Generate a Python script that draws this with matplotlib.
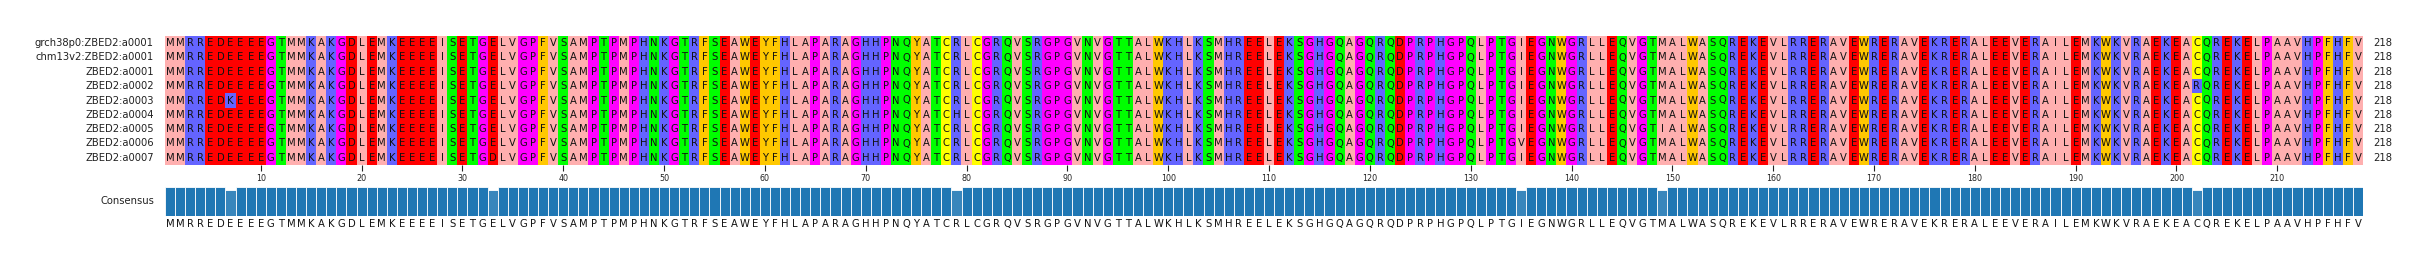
import numpy as np
import matplotlib.pyplot as plt
from matplotlib.colors import LinearSegmentedColormap

# Nombres de las secuencias (en el orden de la figura)
nombres = [
    "grch38p0:ZBED2:a0001",
    "chm13v2:ZBED2:a0001",
    "ZBED2:a0001",
    "ZBED2:a0002",
    "ZBED2:a0003",
    "ZBED2:a0004",
    "ZBED2:a0005",
    "ZBED2:a0006",
    "ZBED2:a0007",
]

base = (
    "MMRREDEEEEGTMMKAKGDLEMKEEEEISETGELVGPFVSAMPTPMPHNKGTRFSEAWEYFHLAPARAGHHPNQYATCRL"
    "CGRQVSRGPGVNVGTTALWKHLKSMHREELEKSGHGQAGQRQDPRPHGPQLPTGIEGNWGRLLEQVGTMALWASQREKEV"
    "LRRERAVEWRERAVEKRERALEEVERAILEMKWKVRAEKEACQREKELPAAVHPFHFV"
)

# Sustituciones por secuencia: (fila, posición 1-based, residuo)
variantes = [
    (3, 202, "R"),   # ZBED2:a0002
    (4, 7, "K"),     # ZBED2:a0003
    (5, 79, "H"),    # ZBED2:a0004
    (6, 149, "I"),   # ZBED2:a0005
    (7, 135, "V"),   # ZBED2:a0006
    (8, 33, "D"),    # ZBED2:a0007
]

# Esquema de colores Zappo
zappo = {}
for aa in "AVLIM":
    zappo[aa] = "#ffafaf"
for aa in "FWY":
    zappo[aa] = "#ffc800"
for aa in "KRH":
    zappo[aa] = "#6464ff"
for aa in "DE":
    zappo[aa] = "#ff0000"
for aa in "STNQ":
    zappo[aa] = "#00ff00"
for aa in "PG":
    zappo[aa] = "#ff00ff"
zappo["C"] = "#ffff00"

# Construir las secuencias alineadas
seqs = [list(base) for _ in nombres]
for fila, pos, aa in variantes:
    seqs[fila][pos - 1] = aa
seqs = ["".join(s) for s in seqs]
n_seq = len(seqs)
n_col = len(base)

# Consenso e identidad por columna
consenso = ""
identidad = []
for i in range(n_col):
    col = [s[i] for s in seqs]
    letras, cuentas = np.unique(col, return_counts=True)
    k = np.argmax(cuentas)
    consenso += letras[k]
    identidad.append(100 * cuentas[k] / n_seq)
identidad = np.array(identidad)

W, H = 2427, 265
fig = plt.figure(figsize=(W / 100, H / 100), dpi=100, facecolor="w")

x0, x1 = 165, 2363
ax = fig.add_axes([x0 / W, (H - 165) / H, (x1 - x0) / W, 129 / H])
axc = fig.add_axes([x0 / W, (H - 215.7) / H, (x1 - x0) / W, 28.4 / H])

fs = 7.2
# Celdas coloreadas y letras
rgb = np.zeros((n_seq, n_col, 3))
for r, s in enumerate(seqs):
    for c, aa in enumerate(s):
        rgb[r, c] = plt.matplotlib.colors.to_rgb(zappo.get(aa, "#ffffff"))
        ax.text(c + 0.5, r + 0.5, aa, ha="center", va="center", fontsize=fs, color="#111111")
ax.imshow(rgb, extent=(0, n_col, n_seq, 0), aspect="auto", interpolation="nearest")
ax.set_xlim(0, n_col)
ax.set_ylim(n_seq, 0)

for r, nombre in enumerate(nombres):
    ax.text(-1.1, r + 0.5, nombre, ha="right", va="center", fontsize=fs, color="#222222")
    ax.text(n_col + 1.0, r + 0.5, str(len(seqs[r].replace("-", ""))), ha="left", va="center",
            fontsize=fs, color="#222222")

ticks = np.arange(10, n_col + 1, 10)
ax.set_xticks(ticks - 0.5)
ax.set_xticklabels([str(t) for t in ticks])
ax.set_yticks([])
ax.tick_params(axis="x", direction="out", length=4, width=0.8, pad=2.5, labelsize=5.8,
               colors="#222222")
for sp in ax.spines.values():
    sp.set_visible(False)

# Barras de consenso
cmap = LinearSegmentedColormap.from_list("m", ("white", "#1f77b4"))
axc.bar(np.arange(n_col) + 0.5, identidad, width=1, color=[cmap(v / 100) for v in identidad],
        edgecolor="white", linewidth=0.6)
axc.set_xlim(0, n_col)
axc.set_ylim(0, 100)
axc.axis("off")
for c, aa in enumerate(consenso):
    axc.text(c + 0.5, -0.275, aa, transform=axc.get_xaxis_transform(), ha="center", va="center",
             fontsize=fs, color="#111111")
axc.text(-1.1, 0.5, "Consensus", transform=axc.get_xaxis_transform(), ha="right", va="center",
         fontsize=fs, color="#222222")

fig.savefig("out.png", dpi=100, facecolor="w")
plt.close(fig)
